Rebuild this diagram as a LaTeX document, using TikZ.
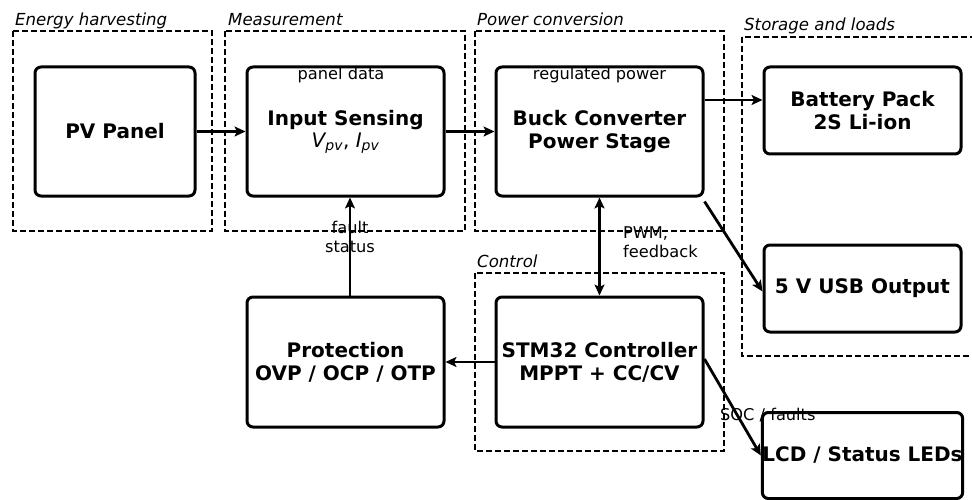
\documentclass[tikz,border=0pt]{standalone}
\usepackage{fontspec}
\setmainfont{DejaVu Sans}
\usetikzlibrary{arrows.meta}
\begin{document}
\begin{tikzpicture}[x=1pt,y=-1pt,
  box/.style={draw, line width=3pt, rounded corners=6pt, align=center, inner sep=0pt,
    font=\fontsize{20}{23}\selectfont\bfseries},
  grpbox/.style={draw, line width=1.7pt, dash pattern=on 6pt off 3pt},
  grplabel/.style={font=\fontsize{16.6}{19}\selectfont\itshape, inner sep=0pt},
  lbl/.style={font=\fontsize{16.2}{19}\selectfont, inner sep=0pt},
  tip/.tip={Stealth[length=11pt,width=10pt,inset=2.5pt]},
  arr/.style={line width=2.8pt, -tip},
  darr/.style={line width=2.8pt, tip-tip}
]
\useasboundingbox (0,0) rectangle (972,500);

% groups
\draw[grpbox] (13,31) rectangle (212,231);
\draw[grpbox] (225,31) rectangle (465,231);
\draw[grpbox] (475,31) rectangle (724,231);
\draw[grpbox] (742,37) rectangle (990,356);
\draw[grpbox] (475,273) rectangle (724,451);

\node[grplabel, anchor=base west] (gEH) at (15,26) {Energy harvesting};
\node[grplabel, anchor=base west] (gM) at (228,26) {Measurement};
\node[grplabel, anchor=base west] (gPC) at (477,26) {Power conversion};
\node[grplabel, anchor=base west] (gSL) at (744,31) {Storage and loads};
\node[grplabel, anchor=base west] (gC) at (477,267) {Control};

% boxes
\node[box, minimum width=160pt, minimum height=129pt] (pv) at (115,131.5) {PV Panel};
\node[box, minimum width=197pt, minimum height=129pt] (ins) at (345.5,131.5)
  {Input Sensing\\[-1pt]\mdseries\itshape V\textsubscript{pv}\upshape, \itshape I\textsubscript{pv}};
\node[box, minimum width=207pt, minimum height=129pt] (buck) at (599.5,131.5) {Buck Converter\\Power Stage};
\node[box, minimum width=197pt, minimum height=87pt] (bat) at (862.5,110.5) {Battery Pack\\2S Li-ion};
\node[box, minimum width=197pt, minimum height=87pt] (usb) at (862.5,288.5) {5 V USB Output};
\node[box, minimum width=197pt, minimum height=86pt] (lcd) at (862.5,455.5) {LCD / Status LEDs};
\node[box, minimum width=197pt, minimum height=130pt] (prot) at (345.5,362) {Protection\\OVP / OCP / OTP};
\node[box, minimum width=207pt, minimum height=130pt] (stm) at (599.5,362) {STM32 Controller\\MPPT + CC/CV};

% connectors
\coordinate (y100) at (0,100);
\coordinate (x350) at (350,0);
\draw[arr] (pv.east) -- (ins.west);
\draw[arr] (ins.east) -- (buck.west);
\draw[arr] (buck.east |- y100) -- (bat.west |- y100);
\draw[arr] ([yshift=-4pt]buck.south east) -- ([yshift=-3pt]usb.west);
\draw[darr] (stm.north) -- (buck.south);
\draw[arr] (prot.north -| x350) -- (ins.south -| x350);
\draw[arr] (stm.west) -- (prot.east);
\draw[arr] ([yshift=3pt]stm.east) -- (lcd.west);

% labels
\node[lbl, anchor=base] (tPD) at (341,80) {panel data};
\node[lbl, anchor=base] (tRP) at (599.5,80) {regulated power};
\node[lbl, anchor=base] (tF1) at (350,233) {fault};
\node[lbl, anchor=base] (tF2) at (350,252) {status};
\node[lbl, anchor=base west] (tP1) at (623,238) {PWM,};
\node[lbl, anchor=base west] (tP2) at (623,257) {feedback};
\node[lbl, anchor=base west] (tS) at (720,420) {SOC / faults};
\end{tikzpicture}
\end{document}
